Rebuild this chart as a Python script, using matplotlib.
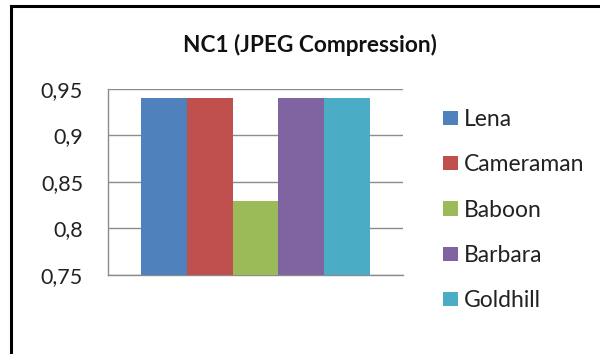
import matplotlib
matplotlib.use("Agg")
import matplotlib.pyplot as plt
from matplotlib.lines import Line2D

# Data
images = ["Lena", "Cameraman", "Baboon", "Barbara", "Goldhill"]
nc1_values = [0.94, 0.94, 0.83, 0.94, 0.94]
colors = ["#4F81BD", "#C0504D", "#9BBB59", "#8064A2", "#4BACC6"]
y_ticks = [0.75, 0.80, 0.85, 0.90, 0.95]
y_tick_labels = ["0,75", "0,8", "0,85", "0,9", "0,95"]
title = "NC1 (JPEG Compression)"

plt.rcParams["font.family"] = ["Lato", "DejaVu Sans"]

fig = plt.figure(figsize=(6.0, 3.54), dpi=100)
fig.patch.set_facecolor("white")

ax = fig.add_axes([0.18, 0.2232, 0.4917, 0.5254])

for i, (name, val, col) in enumerate(zip(images, nc1_values, colors)):
    ax.bar(i, val - y_ticks[0], bottom=y_ticks[0], width=1.0,
           color=col, label=name, zorder=3)

ax.set_xlim(-0.5 - 0.73, 4.5 + 0.73)
ax.set_ylim(y_ticks[0], y_ticks[-1])
ax.set_yticks(y_ticks)
ax.set_yticklabels(y_tick_labels)
ax.set_xticks([])
ax.tick_params(axis="y", length=0, pad=18, labelsize=15.5, colors="#222222")

ax.grid(axis="y", color="#8c8c8c", linewidth=1.0, zorder=0)
for side in ["top", "right"]:
    ax.spines[side].set_visible(False)
for side in ["left", "bottom"]:
    ax.spines[side].set_color("#8c8c8c")
    ax.spines[side].set_linewidth(1.0)

fig.text(0.517, 0.873, title, ha="center", va="center",
         fontsize=16.3, fontweight="bold", color="#111111")

leg = fig.legend(loc="upper left", bbox_to_anchor=(0.738, 0.692),
                 frameon=False, fontsize=16.5, handlelength=0.655,
                 handleheight=0.57, handletextpad=0.26, labelspacing=1.06,
                 borderaxespad=0, borderpad=0)
for t in leg.get_texts():
    t.set_color("#222222")

# Outer frame: top and left edges
fig.add_artist(Line2D([0.0183, 1.0], [0.983, 0.983], transform=fig.transFigure,
                      color="black", linewidth=2.2))
fig.add_artist(Line2D([0.0183, 0.0183], [0.0, 0.983], transform=fig.transFigure,
                      color="black", linewidth=2.2))

fig.savefig("out.png", dpi=100, facecolor="white")
